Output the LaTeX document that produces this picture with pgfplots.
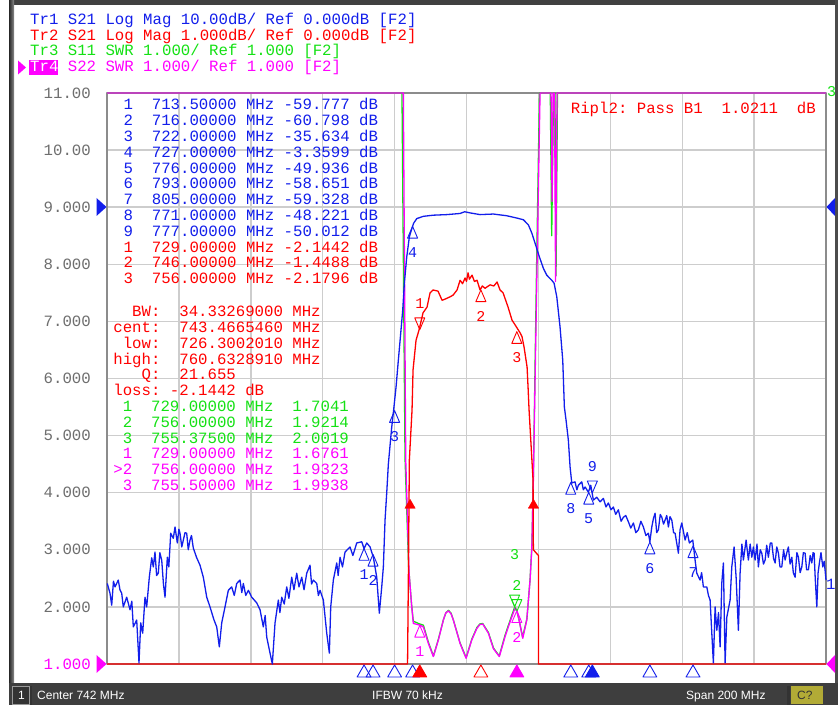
\documentclass[border=0pt]{standalone}
\usepackage{fontspec}
\usepackage{pgfplots}
\pgfplotsset{compat=1.18}
\setmainfont{Liberation Sans}
\newfontfamily\vna{Liberation Mono}
\newcommand{\vf}{\vna\fontsize{15.7bp}{16bp}\selectfont}
\newcommand{\mf}{\vna\fontsize{15bp}{15bp}\selectfont}

\definecolor{vblue}{RGB}{18,30,235}
\definecolor{vred}{RGB}{255,0,0}
\definecolor{vgreen}{RGB}{20,225,20}
\definecolor{vmag}{RGB}{255,0,255}
\definecolor{vgrid}{RGB}{205,205,205}
\definecolor{vtick}{RGB}{110,110,110}
\definecolor{vbar}{RGB}{62,62,62}

\pgfplotsset{
  mkup/.style={only marks, mark=triangle, mark size=5.8bp,
    mark options={yshift=-7.8bp, yscale=1.35, line width=0.9bp, fill=none},
    point meta=explicit symbolic, nodes near coords,
    nodes near coords style={font=\mf, inner sep=0pt, anchor=north, yshift=-13bp}},
  mkdn/.style={only marks, mark=triangle, mark size=5.8bp,
    mark options={yshift=7.8bp, yscale=1.35, rotate=180, line width=0.9bp, fill=none},
    point meta=explicit symbolic, nodes near coords,
    nodes near coords style={font=\mf, inner sep=0pt, anchor=south, yshift=13bp}},
  mkbot/.style={only marks, mark=triangle, mark size=8bp,
    mark options={yshift=-9bp, line width=0.9bp}},
}

\begin{document}
\begin{tikzpicture}[x=1bp,y=1bp]
% window (image pixel coordinates, y downwards)
\begin{scope}[y=-1bp, yshift=705bp]
\fill[white] (0,0) rectangle (838,705);
\fill[black!75] (9,0) rectangle (838,5);
\shade[left color=black!85, right color=black!45] (9,0) rectangle (14,705);
\fill[black!70] (835,0) rectangle (838,705);
\begin{scope}[every node/.style={anchor=base west, inner sep=0pt, font=\vf}]
\node[text=vblue] at (30,25) {Tr1 S21 Log Mag 10.00dB/ Ref 0.000dB [F2]};
\node[text=vred] at (30,40.5) {Tr2 S21 Log Mag 1.000dB/ Ref 0.000dB [F2]};
\node[text=vgreen] at (30,56) {Tr3 S11 SWR 1.000/ Ref 1.000 [F2]};
\fill[vmag] (18,60.5) -- (26,67.5) -- (18,74.5) -- cycle;
\fill[vmag] (28.5,60.5) rectangle (57.5,75);
\node[text=white] at (30,71.7) {Tr4};
\node[text=vmag] at (30,71.7) {\phantom{Tr4} S22 SWR 1.000/ Ref 1.000 [F2]};
\end{scope}
\end{scope}

\begin{axis}[
  at={(107bp,41bp)}, anchor=south west,
  scale only axis, width=719bp, height=571bp,
  xmin=642, xmax=842, ymin=1, ymax=11,
  xtick={642,662,...,842}, xticklabels={},
  ytick={1,2,...,11},
  yticklabels={\textcolor{vmag}{1.000},2.000,3.000,4.000,5.000,6.000,7.000,8.000,9.000,10.00,11.00},
  yticklabel style={font=\vf, text=vtick, inner sep=0pt, anchor=east, xshift=-16bp},
  major tick length=0pt,
  grid=major, major grid style={vgrid, line width=1.4bp},
  axis line style={black!45, line width=1.3bp},
  clip=false,
  line join=round,
]
% S11 SWR (green)
\addplot[vgreen, line width=1.3bp] coordinates {
(642,11)(724.05,11)(724.9,4.6)(725.9,2.7)(726.7,2.05)(727.2,1.75)(729.0,1.70)(730.0,1.68)(731.4,1.38)
(732.8,1.14)(734.2,1.44)(735.6,1.78)(736.3,1.90)(737.0,1.94)(737.7,1.89)(738.3,1.78)(740.2,1.37)
(741.9,1.11)(743.5,1.44)(744.9,1.64)(745.7,1.70)(746.5,1.71)(748.1,1.55)(749.5,1.28)(751.1,1.14)
(752.7,1.50)(754.1,1.76)(755.4,2.00)(756.0,1.92)(756.6,1.78)(757.6,1.47)(758.8,1.79)(759.7,2.5)
(760.2,3.1)(760.6,4.3)(761.5,8.0)(762.3,11)(765.3,11)(765.7,8.5)(766.2,11)(766.6,11)(766.9,7.8)(767.3,11)(842,11)};
% S22 SWR (magenta)
\addplot[vmag, line width=1.3bp] coordinates {
(642,11)(724.43,11)(725.10,4.57)(726.02,2.6)(726.77,2.0)(727.21,1.71)(729.08,1.68)(730.00,1.65)
(731.39,1.36)(732.78,1.13)(734.17,1.42)(735.56,1.77)(736.2,1.89)(736.95,1.93)(737.7,1.88)(738.34,1.77)
(740.21,1.36)(741.88,1.10)(743.46,1.42)(744.85,1.62)(745.7,1.69)(746.52,1.70)(748.08,1.54)(749.47,1.27)
(751.14,1.13)(752.72,1.48)(754.12,1.74)(755.56,1.99)(756.06,1.93)(756.62,1.77)(757.65,1.45)(758.76,1.77)
(759.68,2.47)(760.15,3.0)(760.60,4.22)(761.63,8.0)(762.46,11)(765.52,11)(765.80,9.1)(766.08,11)
(766.49,11)(766.77,7.7)(767.19,11)(842,11)};
% S21 1 dB/div (red)
\addplot[vred, line width=1.3bp] coordinates {
(642,1)(725.6,1)(725.9,3.0)(726.1,4.57)(726.85,5.45)(727.13,6.15)(727.96,6.67)(728.80,6.85)
(729.91,7.15)(731.02,7.25)(731.86,7.5)(732.69,7.55)(734.08,7.53)(735.20,7.37)(736.03,7.39)
(737.42,7.43)(738.26,7.46)(739.37,7.55)(740.21,7.72)(740.9,7.66)(741.60,7.76)(742.0,7.70)(742.43,7.85)
(742.8,7.74)(743.54,7.81)(744.2,7.70)(744.93,7.72)(745.77,7.55)(746.4,7.62)(747.16,7.58)(748.55,7.64)
(749.6,7.62)(750.50,7.69)(751.33,7.55)(752.17,7.5)(753.56,7.25)(754.67,7.02)(755.51,6.94)(756.90,6.80)
(757.45,6.73)(758.01,6.55)(758.85,6.2)(759.12,5.85)(759.40,5.45)(760.51,4.22)(760.6,3.0)(762.0,2.9)
(762.0,1)(842,1)};
% S21 10 dB/div (blue)
\addplot[vblue, line width=1.3bp] coordinates {
(642.08,2.41)(642.83,2.24)(643.31,2.03)(643.8,2.45)(644.23,2.35)(645.14,2.47)(645.6,2.30)(646.09,2.24)(646.53,2.0)
(647.48,2.17)(648.40,1.95)(648.9,2.10)(649.32,1.65)(650.26,1.77)(650.90,1.02)(651.38,1.72)(651.93,1.54)
(652.57,2.17)(653.04,2.0)(653.77,2.52)(654.44,2.86)(654.88,2.7)(655.35,2.96)(655.8,2.55)(656.27,2.59)
(656.7,2.95)(657.22,2.82)(657.7,2.40)(658.14,2.17)(658.78,2.87)(659.2,2.70)(659.72,3.29)(660.44,3.2)
(660.92,3.4)(661.56,3.12)(662.0,3.36)(662.31,3.29)(662.8,3.05)(663.23,3.17)(663.7,3.30)(664.17,3.29)
(664.6,3.00)(665.09,3.17)(665.5,3.25)(666.01,3.03)(666.95,2.86)(667.87,2.73)(668.79,2.52)(669.74,2.17)
(670.65,2.0)(671.77,1.77)(672.52,1.65)(673.24,1.30)(673.91,1.72)(674.83,2.0)(675.75,2.29)(676.69,2.35)
(677.4,2.20)(678.08,2.41)(679.00,2.47)(679.5,2.25)(679.92,2.41)(680.6,2.20)(681.31,2.29)(682.26,2.17)
(683.65,2.07)(684.57,1.95)(685.48,1.65)(686.0,1.85)(686.43,1.47)(687.35,1.19)(687.99,1.0)(688.74,1.72)
(689.66,2.12)(690.1,1.90)(690.60,2.17)(691.3,2.05)(691.99,2.35)(692.6,2.15)(693.38,2.52)(694.0,2.30)
(694.77,2.59)(695.4,2.35)(696.17,2.52)(696.8,2.30)(697.56,2.59)(698.47,2.73)(698.9,2.40)(699.39,2.47)
(700.34,2.41)(700.8,2.20)(701.26,2.29)(702.18,2.12)(703.12,1.54)(703.85,1.19)(704.23,2.0)(704.96,2.47)
(705.90,2.77)(706.3,2.55)(706.82,2.87)(707.5,2.70)(708.21,2.96)(709.60,3.05)(710.4,2.90)(711.47,3.12)
(712.86,3.14)(713.5,3.02)(714.25,3.12)(715.17,3.05)(716.08,2.87)(717.03,2.52)(717.75,1.89)(718.42,2.35)
(718.87,2.7)(719.34,3.52)(719.81,4.0)(720.26,4.5)(721.20,5.15)(721.65,5.4)(722.40,5.85)(723.04,6.32)
(723.71,6.8)(724.26,7.2)(724.71,7.67)(725.38,8.13)(726.10,8.48)(726.77,8.62)(727.3,8.72)(728.16,8.80)
(730.00,8.84)(732.78,8.86)(736.51,8.87)(740.21,8.89)(741.5,8.92)(742.99,8.90)(745.77,8.87)(749.47,8.88)
(753.20,8.85)(755.98,8.81)(757.82,8.78)(759.21,8.69)(760.15,8.55)(761.07,8.37)(762.27,8.13)(763.38,7.93)
(764.32,7.81)(765.71,7.72)(766.36,7.67)(767.11,7.43)(768.02,6.9)(768.77,6.32)(769.22,5.5)(769.69,5.27)
(770.33,4.92)(770.81,4.45)(771.28,4.17)(772.19,4.19)(772.7,4.05)(773.11,4.13)(774.06,4.19)(774.5,4.05)
(774.98,4.10)(775.90,4.01)(776.56,4.13)(777.29,3.87)(778.23,3.92)(779.15,3.84)(780.07,3.90)(780.8,3.75)
(781.46,3.82)(782.2,3.70)(782.85,3.75)(783.5,3.62)(784.24,3.70)(785.0,3.50)(785.64,3.57)(786.3,3.60)
(787.03,3.49)(787.7,3.38)(788.42,3.47)(789.1,3.30)(789.81,3.35)(790.5,3.50)(791.20,3.40)(791.9,3.25)
(792.59,3.29)(793.0,3.14)(793.54,3.40)(794.0,3.55)(794.45,3.64)(794.9,3.30)(795.37,3.35)(795.9,3.62)
(796.32,3.57)(796.8,3.45)(797.24,3.52)(797.7,3.60)(798.16,3.40)(798.6,3.58)(799.10,3.52)(799.6,3.30)
(800.02,3.29)(800.94,2.94)(801.4,3.35)(801.88,3.47)(802.80,3.17)(803.4,3.30)(804.00,3.12)(804.94,3.17)
(805.58,2.82)(806.05,2.59)(806.97,2.47)(807.4,2.60)(807.89,2.35)(808.84,2.35)(809.3,2.20)(809.76,2.12)
(810.23,1.54)(810.67,1.02)(811.15,2.0)(811.62,1.59)(812.1,1.90)(812.54,1.30)(813.01,2.42)(813.46,2.77)
(813.93,1.02)(814.41,1.82)(815.32,2.12)(815.79,2.7)(816.43,3.05)(816.99,2.52)(817.63,1.59)(818.10,2.59)
(818.6,3.10)(819.02,2.82)(819.77,3.17)(820.41,2.82)(820.9,3.10)(821.36,2.87)(821.8,3.05)(822.27,2.82)
(822.8,3.10)(823.19,2.7)(823.7,3.00)(824.14,2.94)(824.6,2.75)(825.06,2.82)(825.5,3.08)(825.97,2.87)
(826.5,3.12)(826.92,3.12)(827.4,2.85)(827.84,2.77)(828.3,3.05)(828.76,2.94)(829.2,2.70)(829.70,2.7)
(830.2,3.00)(830.62,2.82)(831.1,2.95)(831.54,3.05)(832.0,2.75)(832.49,2.87)(832.9,2.60)(833.40,2.52)
(833.9,2.95)(834.32,2.87)(834.8,2.60)(835.27,2.7)(835.7,2.95)(836.19,2.94)(836.6,2.65)(837.10,2.65)
(837.6,2.90)(838.05,2.77)(838.4,2.95)(838.69,2.94)(839.0,2.50)(839.44,2.0)(839.8,2.60)(840.16,2.77)
(840.6,2.95)(841.11,2.7)(841.5,2.80)(842.0,2.47)};

% BW arrows
\addplot[only marks, mark=triangle*, mark size=6bp, color=vred] coordinates {(726.3,3.78)(760.63,3.78)};
% markers on traces
\addplot[mkup, vblue] coordinates {(713.5,3.022)[1](716,2.920)[2](722,5.437)[3](727,8.664)[4]
  (776,4.006)[5](793,3.135)[6](805,3.067)[7](771,4.178)[8]};
\addplot[mkdn, vblue] coordinates {(777,3.999)[9]};
\addplot[mkdn, vred] coordinates {(729,6.856)[1]};
\addplot[mkup, vred] coordinates {(746,7.551)[2](756,6.820)[3]};
\addplot[mkdn, vgreen] coordinates {(756,1.921)[2]};
\addplot[mkdn, vgreen, nodes near coords style={yshift=26bp}] coordinates {(755.375,2.002)[3]};
\addplot[mkup, vmag] coordinates {(729,1.676)[1](756,1.932)[2]};
% marker row under the grid
\addplot[mkbot, vblue] coordinates {(713.5,1)(716,1)(722,1)(727,1)(771,1)(776,1)(793,1)(805,1)};
\addplot[mkbot, vred] coordinates {(746,1)};
\addplot[mkbot, mark=triangle*, vmag] coordinates {(756,1)};
\addplot[mkbot, mark=triangle*, vred] coordinates {(729,1)};
\addplot[mkbot, mark=triangle*, vblue] coordinates {(777,1)};
\end{axis}

\begin{scope}[y=-1bp, yshift=705bp]
% reference position arrows
\fill[vblue] (96.5,198) -- (106.5,207) -- (96.5,216) -- cycle;
\fill[vmag] (96.5,655) -- (106.5,664) -- (96.5,673) -- cycle;
\fill[vblue] (835,198) -- (826.5,207) -- (835,216) -- cycle;
\fill[vmag] (835,655) -- (826.5,664) -- (835,673) -- cycle;
% marker tables
\begin{scope}[every node/.style={anchor=base west, inner sep=0pt, font=\vf}]
\node[text=vblue] at (123.4,110)   {1~~713.50000~MHz~-59.777~dB};
\node[text=vblue] at (123.4,125.8) {2~~716.00000~MHz~-60.798~dB};
\node[text=vblue] at (123.4,141.6) {3~~722.00000~MHz~-35.634~dB};
\node[text=vblue] at (123.4,157.4) {4~~727.00000~MHz~-3.3599~dB};
\node[text=vblue] at (123.4,173.2) {5~~776.00000~MHz~-49.936~dB};
\node[text=vblue] at (123.4,189)   {6~~793.00000~MHz~-58.651~dB};
\node[text=vblue] at (123.4,204.8) {7~~805.00000~MHz~-59.328~dB};
\node[text=vblue] at (123.4,220.6) {8~~771.00000~MHz~-48.221~dB};
\node[text=vblue] at (123.4,236.4) {9~~777.00000~MHz~-50.012~dB};
\node[text=vred]  at (123.4,252.2) {1~~729.00000~MHz~-2.1442~dB};
\node[text=vred]  at (123.4,268)   {2~~746.00000~MHz~-1.4488~dB};
\node[text=vred]  at (123.4,283.8) {3~~756.00000~MHz~-2.1796~dB};
\node[text=vred]  at (113.2,316.7) {~~BW:~~34.33269000~MHz};
\node[text=vred]  at (113.2,332.5) {cent:~~743.4665460~MHz};
\node[text=vred]  at (113.2,348.3) {~low:~~726.3002010~MHz};
\node[text=vred]  at (113.2,364.1) {high:~~760.6328910~MHz};
\node[text=vred]  at (113.2,379.9) {~~~Q:~~21.655};
\node[text=vred]  at (113.2,395.7) {loss:~-2.1442~dB};
\node[text=vgreen] at (113.2,411.5) {~1~~729.00000~MHz~~1.7041};
\node[text=vgreen] at (113.2,427.3) {~2~~756.00000~MHz~~1.9214};
\node[text=vgreen] at (113.2,443.1) {~3~~755.37500~MHz~~2.0019};
\node[text=vmag]  at (113.2,458.9) {~1~~729.00000~MHz~~1.6761};
\node[text=vmag]  at (113.2,474.7) {>2~~756.00000~MHz~~1.9323};
\node[text=vmag]  at (113.2,490.5) {~3~~755.50000~MHz~~1.9938};
\node[text=vred]  at (570.7,113.3) {Ripl2:~Pass~B1~~1.0211~~dB};
\node[text=vblue] at (826,590) {1};
\node[text=vgreen, font=\mf] at (827,97) {3};
\end{scope}
% status bar
\fill[vbar] (9,683) rectangle (838,705);
\fill[black!80] (12,686) rectangle (30,705);
\draw[black!40] (12.5,686.5) rectangle (29.5,704.5);
\fill[black!80] (30,686) rectangle (32,705);
\begin{scope}[every node/.style={anchor=base west, inner sep=0pt, text=white, font=\fontsize{12bp}{12bp}\selectfont}]
\node at (18,699.5) {1};
\node at (37,699.5) {Center 742 MHz};
\node at (372,699.5) {IFBW 70 kHz};
\node at (686,699.5) {Span 200 MHz};
\end{scope}
\fill[black!80] (787,686) rectangle (790,705);
\fill[olive!55!yellow!70!gray] (791,686) rectangle (823,704);
\node[anchor=base west, inner sep=0pt, text=black!80, font=\fontsize{12bp}{12bp}\selectfont] at (797,699.5) {C?};
\end{scope}

\pgfresetboundingbox
\useasboundingbox (0,0) rectangle (838,705);
\end{tikzpicture}
\end{document}
